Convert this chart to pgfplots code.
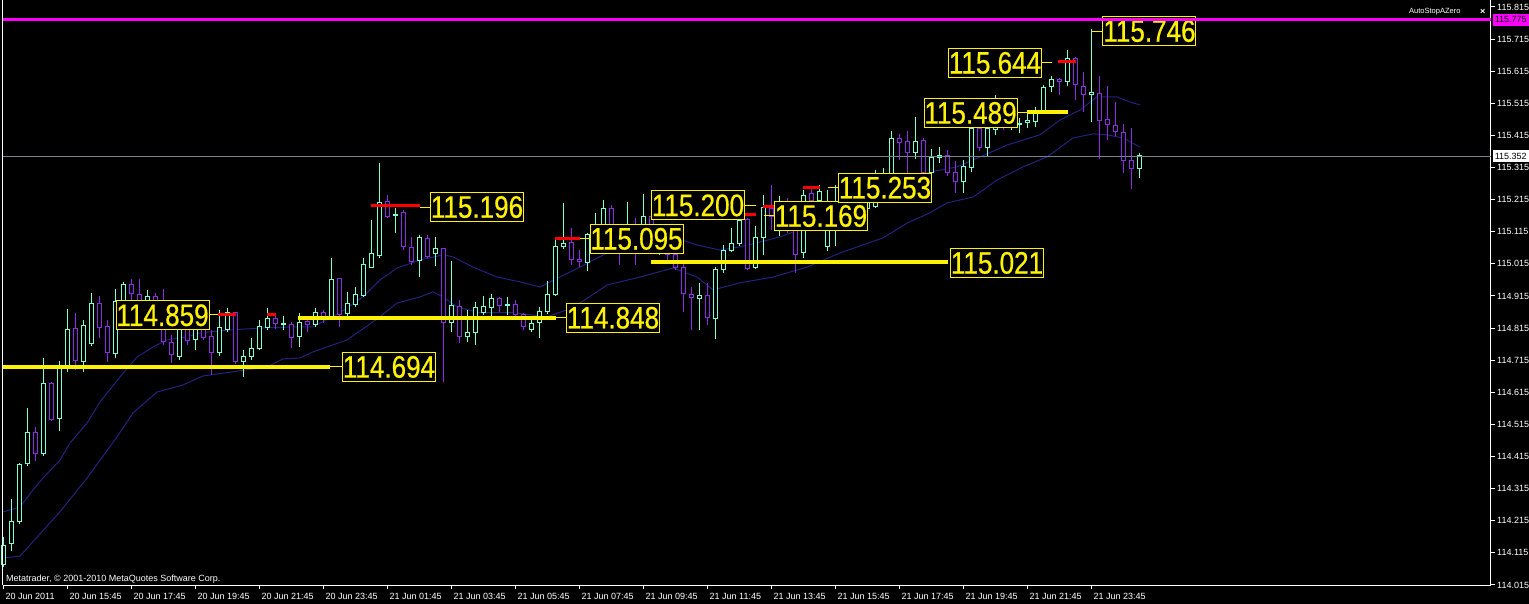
\documentclass[border=0pt]{standalone}
\usepackage{fontspec}
\setmainfont{Liberation Sans}
\newfontfamily\bigfont[FakeStretch=0.84, FakeBold=0.6]{Liberation Sans}
\usepackage{pgfplots}
\usepackage{pgfplotstable}
\pgfplotsset{compat=1.18}

\definecolor{bull}{RGB}{127,255,212}
\definecolor{bear}{RGB}{138,43,226}
\definecolor{maline}{RGB}{35,35,125}
\definecolor{pricegray}{RGB}{120,130,140}
\definecolor{mtmagenta}{RGB}{255,0,255}

\newcommand{\tickfont}{\fontsize{9bp}{10bp}\selectfont}
\newcommand{\lblfont}{\bigfont\fontsize{31bp}{31bp}\selectfont}

% M15 candles, index = bar number from 20 Jun 13:45
\pgfplotstableread{
i o h l c
0 114.078 114.165 114.071 114.137
1 114.143 114.283 114.121 114.212
2 114.212 114.395 114.206 114.389
3 114.392 114.566 114.386 114.491
5 114.423 114.722 114.417 114.641
7 114.535 114.713 114.494 114.691
8 114.691 114.875 114.679 114.810
10 114.710 114.841 114.679 114.822
11 114.766 114.924 114.760 114.891
14 114.735 114.937 114.722 114.897
15 114.841 114.959 114.825 114.952
18 114.872 114.934 114.841 114.912
22 114.725 114.872 114.716 114.841
24 114.781 114.856 114.747 114.825
27 114.738 114.872 114.728 114.816
28 114.810 114.878 114.803 114.863
30 114.710 114.747 114.663 114.725
31 114.725 114.785 114.716 114.753
32 114.750 114.841 114.747 114.819
33 114.816 114.878 114.810 114.844
35 114.827 114.853 114.810 114.829
37 114.788 114.863 114.756 114.831
39 114.825 114.878 114.819 114.863
41 114.850 115.033 114.847 114.965
43 114.859 114.928 114.850 114.891
44 114.887 114.943 114.881 114.921
45 114.918 115.033 114.912 115.012
46 115.005 115.152 115.002 115.046
47 115.040 115.329 115.033 115.205
49 115.166 115.189 115.111 115.168
52 115.027 115.105 114.974 115.096
54 115.046 115.099 115.009 115.062
56 114.831 115.024 114.803 114.884
58 114.788 114.872 114.772 114.800
59 114.800 114.897 114.763 114.878
60 114.863 114.915 114.856 114.881
61 114.878 114.921 114.853 114.906
63 114.885 114.912 114.856 114.887
66 114.810 114.841 114.803 114.828
67 114.831 114.881 114.785 114.866
68 114.866 114.962 114.859 114.921
69 114.921 115.096 114.915 115.068
70 115.068 115.205 115.062 115.080
73 115.018 115.111 114.993 115.108
74 115.090 115.174 115.058 115.136
75 115.105 115.214 115.090 115.186
78 115.090 115.208 115.074 115.136
80 115.090 115.233 115.074 115.161
82 115.090 115.136 115.043 115.105
87 114.906 114.956 114.810 114.918
89 114.844 115.005 114.781 114.996
90 114.999 115.074 114.987 115.058
91 115.058 115.127 115.052 115.077
92 115.077 115.227 115.071 115.149
94 115.005 115.133 114.999 115.096
95 115.096 115.230 115.043 115.192
97 115.121 115.227 115.102 115.198
100 115.049 115.245 115.033 115.227
102 115.211 115.261 115.121 115.239
103 115.068 115.245 115.055 115.183
104 115.167 115.261 115.071 115.198
106 115.177 115.230 115.152 115.198
107 115.183 115.245 115.167 115.214
108 115.186 115.230 115.177 115.205
109 115.195 115.308 115.189 115.230
110 115.227 115.314 115.214 115.276
111 115.298 115.429 115.289 115.404
114 115.361 115.473 115.342 115.395
116 115.301 115.373 115.295 115.345
117 115.345 115.379 115.329 115.351
120 115.270 115.339 115.236 115.317
121 115.314 115.463 115.301 115.438
123 115.376 115.463 115.348 115.438
124 115.432 115.541 115.417 115.479
126 115.445 115.488 115.432 115.457
127 115.448 115.470 115.423 115.451
128 115.454 115.485 115.438 115.463
129 115.457 115.504 115.442 115.485
130 115.494 115.572 115.488 115.563
131 115.566 115.600 115.550 115.588
133 115.582 115.681 115.569 115.656
136 115.544 115.746 115.457 115.550
142 115.311 115.361 115.283 115.352
}\bulltab

\pgfplotstableread{
i o h l c
4 114.491 114.507 114.401 114.423
6 114.641 114.648 114.526 114.529
9 114.813 114.863 114.685 114.713
12 114.891 114.915 114.785 114.816
13 114.819 114.841 114.710 114.738
16 114.952 114.968 114.903 114.924
17 114.921 114.968 114.856 114.872
19 114.912 114.924 114.841 114.856
20 114.856 114.937 114.763 114.772
21 114.769 114.794 114.707 114.732
23 114.841 114.866 114.763 114.775
25 114.825 114.847 114.778 114.785
26 114.788 114.810 114.669 114.738
29 114.863 114.866 114.704 114.710
34 114.844 114.853 114.813 114.828
36 114.825 114.834 114.753 114.785
38 114.834 114.850 114.803 114.825
40 114.863 114.872 114.831 114.847
42 114.968 114.971 114.819 114.856
48 115.208 115.230 115.158 115.164
50 115.174 115.183 115.058 115.068
51 115.065 115.099 115.012 115.021
53 115.093 115.105 115.033 115.037
55 115.062 115.065 114.647 114.831
57 114.881 114.903 114.769 114.788
62 114.906 114.912 114.866 114.884
64 114.887 114.903 114.847 114.856
65 114.856 114.863 114.810 114.819
71 115.083 115.127 115.012 115.030
72 115.030 115.058 115.005 115.021
76 115.186 115.198 115.090 115.105
77 115.105 115.136 115.012 115.074
79 115.136 115.158 115.012 115.074
81 115.161 115.183 115.058 115.090
83 115.090 115.121 115.021 115.043
84 115.043 115.074 114.996 115.005
85 115.005 115.021 114.866 114.924
86 114.921 114.943 114.810 114.909
88 114.918 114.956 114.825 114.847
93 115.152 115.158 114.996 115.002
96 115.186 115.261 115.121 115.161
98 115.198 115.220 115.111 115.136
99 115.118 115.152 114.987 115.043
101 115.233 115.252 115.198 115.211
105 115.198 115.214 115.146 115.177
112 115.404 115.420 115.339 115.392
113 115.395 115.429 115.298 115.361
115 115.398 115.407 115.295 115.301
118 115.351 115.370 115.289 115.301
119 115.301 115.336 115.236 115.270
122 115.438 115.457 115.367 115.376
125 115.479 115.501 115.432 115.448
132 115.588 115.594 115.541 115.582
134 115.656 115.659 115.526 115.575
135 115.566 115.613 115.488 115.544
137 115.547 115.600 115.342 115.460
138 115.466 115.569 115.401 115.448
139 115.445 115.519 115.413 115.426
140 115.423 115.451 115.298 115.336
141 115.336 115.438 115.248 115.311
}\beartab

% moving averages
\pgfplotstableread{
i v
0 114.243
2.06 114.258
3.69 114.311
4.94 114.348
7.06 114.404
8.31 114.457
10.44 114.519
12.06 114.585
14.56 114.663
16.69 114.725
18.69 114.756
20.44 114.778
22.94 114.788
24.56 114.800
28.69 114.810
32.94 114.816
37.06 114.819
38.69 114.819
42.06 114.863
44.94 114.912
47.06 114.965
49.19 115.002
52.06 115.027
54.94 115.043
56.19 115.037
58.69 115.005
61.69 114.974
64.56 114.959
67.06 114.943
69.56 114.974
72.06 115.005
75.44 115.049
79.56 115.096
83.69 115.099
86.69 115.074
89.56 115.058
92.06 115.068
94.56 115.083
97.06 115.099
100.44 115.130
104.56 115.177
108.31 115.230
112.06 115.276
115.81 115.301
119.19 115.317
122.06 115.348
125.44 115.385
129.56 115.417
132.06 115.463
134.56 115.494
136.69 115.535
139.19 115.535
140.81 115.519
142.06 115.510
}\mafast

\pgfplotstableread{
i v
0 114.099
2.06 114.105
7.06 114.243
10.44 114.348
14.19 114.476
16.19 114.551
19.19 114.616
22.44 114.638
24.94 114.666
28.69 114.679
32.94 114.694
34.94 114.719
37.06 114.722
38.69 114.741
42.94 114.778
47.06 114.850
49.19 114.893
52.06 114.912
53.69 114.928
54.94 114.912
56.69 114.881
59.56 114.863
63.69 114.863
67.94 114.850
70.44 114.872
72.06 114.893
75.44 114.949
79.56 114.974
83.69 115.002
86.69 114.974
88.69 114.934
92.06 114.956
96.19 114.974
100.44 115.005
104.56 115.049
109.94 115.096
112.94 115.142
115.81 115.174
117.94 115.205
121.19 115.223
124.19 115.276
127.44 115.317
130.44 115.348
133.69 115.407
136.19 115.420
137.94 115.417
139.94 115.407
142.06 115.379
}\maslow

\pgfplotstablegetrowsof{\bulltab}\pgfmathtruncatemacro{\nbull}{\pgfplotsretval-1}
\pgfplotstablegetrowsof{\beartab}\pgfmathtruncatemacro{\nbear}{\pgfplotsretval-1}

% one candle = wick (low to high) + hollow body (open to close), read from row #2 of table #1
\newcommand{\candle}[3]{%
  \pgfplotstablegetelem{#2}{i}\of#1\edef\ci{\pgfplotsretval}%
  \pgfplotstablegetelem{#2}{o}\of#1\edef\co{\pgfplotsretval}%
  \pgfplotstablegetelem{#2}{h}\of#1\edef\ch{\pgfplotsretval}%
  \pgfplotstablegetelem{#2}{l}\of#1\edef\cl{\pgfplotsretval}%
  \pgfplotstablegetelem{#2}{c}\of#1\edef\cc{\pgfplotsretval}%
  \pgfmathsetmacro{\xl}{\ci-0.25}\pgfmathsetmacro{\xr}{\ci+0.25}%
  \edef\doplot{%
    \noexpand\addplot[#3, line width=1bp, mark=none] coordinates {(\ci,\cl) (\ci,\ch)};
    \noexpand\addplot[draw=#3, fill=black, line width=1bp, mark=none]
      coordinates {(\xl,\co) (\xr,\co) (\xr,\cc) (\xl,\cc)} -- cycle;}%
  \doplot}

\pgfplotsset{
  frame/.style={
    at={(3bp,19bp)}, anchor=south west,
    width=1488bp, height=585bp, scale only axis,
    xmin=-0.0625, xmax=185.94,
    ymin=114.01494, ymax=115.8368,
    clip=false},
}

\begin{document}
\begin{tikzpicture}
\fill[black] (0,0) rectangle (1529bp,604bp);
\useasboundingbox (0,0) rectangle (1529bp,604bp);
% price chart: scales, moving averages and candles
\begin{axis}[frame,
  separate axis lines,
  axis x line*=bottom, axis y line*=right,
  axis line style={white, line width=1bp},
  tick style={white, line width=1bp},
  tick align=outside, major tick length=4bp,
  xtick={0,8,...,136},
  xticklabels={20 Jun 2011, 20 Jun 15:45, 20 Jun 17:45, 20 Jun 19:45, 20 Jun 21:45, 20 Jun 23:45,
    21 Jun 01:45, 21 Jun 03:45, 21 Jun 05:45, 21 Jun 07:45, 21 Jun 09:45, 21 Jun 11:45,
    21 Jun 13:45, 21 Jun 15:45, 21 Jun 17:45, 21 Jun 19:45, 21 Jun 21:45, 21 Jun 23:45},
  ytick={114.015,114.115,114.215,114.315,114.415,114.515,114.615,114.715,114.815,114.915,
    115.015,115.115,115.215,115.315,115.415,115.515,115.615,115.715,115.815},
  yticklabels={114.015,114.115,114.215,114.315,114.415,114.515,114.615,114.715,114.815,114.915,
    115.015,115.115,115.215,115.315,115.415,115.515,115.615,115.715,115.815},
  every tick label/.append style={text=white, font=\tickfont, inner sep=0pt},
  xticklabel style={anchor=north west, xshift=2bp, yshift=-4bp},
  yticklabel style={anchor=west, xshift=2bp},
]
\addplot[maline, line width=1bp, mark=none] table[x=i, y=v] {\mafast};
\addplot[maline, line width=1bp, mark=none] table[x=i, y=v] {\maslow};
\pgfplotsinvokeforeach{0,...,\nbull}{\candle{\bulltab}{#1}{bull}}
\pgfplotsinvokeforeach{0,...,\nbear}{\candle{\beartab}{#1}{bear}}
\draw[white, line width=1bp] (rel axis cs:0,0) -- (rel axis cs:0,1);
\end{axis}

% levels of the AutoStopAZero indicator, on top of the candles
\begin{axis}[frame, hide axis]
\addplot[pricegray, line width=1bp, mark=none] coordinates {(-0.0625,115.350) (185.94,115.350)};
% support levels (yellow)
\addplot[yellow, line width=4bp, mark=none] coordinates {(-0.0625,114.694) (40.81,114.694)};
\addplot[yellow, line width=4bp, mark=none] coordinates {(36.81,114.845) (53.06,114.845)};
\addplot[yellow, line width=4bp, mark=none] coordinates {(53.06,114.848) (69.06,114.848)};
\addplot[yellow, line width=4bp, mark=none] coordinates {(80.94,115.021) (118.06,115.021)};
\addplot[yellow, line width=4bp, mark=none] coordinates {(127.94,115.489) (133.06,115.489)};
% stop levels (red)
\addplot[red, line width=3bp, mark=none] coordinates {(26.81,114.856) (29.06,114.856)};
\addplot[red, line width=3bp, mark=none] coordinates {(32.94,114.856) (34.06,114.856)};
\addplot[red, line width=3bp, mark=none] coordinates {(45.94,115.196) (52.06,115.196)};
\addplot[red, line width=3bp, mark=none] coordinates {(68.94,115.095) (72.06,115.095)};
\addplot[red, line width=3bp, mark=none] coordinates {(90.81,115.169) (94.06,115.169)};
\addplot[red, line width=3bp, mark=none] coordinates {(94.94,115.195) (99.06,115.195)};
\addplot[red, line width=3bp, mark=none] coordinates {(99.94,115.253) (102.06,115.253)};
\addplot[red, line width=3bp, mark=none] coordinates {(131.81,115.644) (134.06,115.644)};
% connectors
\addplot[yellow, line width=1bp, mark=none] coordinates {(40.81,114.694) (42.31,114.694)};
\addplot[yellow, line width=1bp, mark=none] coordinates {(25.81,114.856) (26.81,114.856)};
\addplot[yellow, line width=1bp, mark=none] coordinates {(52.06,115.192) (53.31,115.192)};
\addplot[yellow, line width=1bp, mark=none] coordinates {(69.06,114.848) (70.31,114.848)};
\addplot[yellow, line width=1bp, mark=none] coordinates {(72.06,115.093) (73.31,115.093)};
\addplot[yellow, line width=1bp, mark=none] coordinates {(92.69,115.198) (94.06,115.198)};
\addplot[yellow, line width=1bp, mark=none] coordinates {(95.06,115.167) (96.31,115.167)};
\addplot[yellow, line width=1bp, mark=none] coordinates {(103.06,115.252) (104.31,115.252)};
\addplot[yellow, line width=1bp, mark=none] coordinates {(126.81,115.485) (127.94,115.485)};
\addplot[yellow, line width=1bp, mark=none] coordinates {(129.81,115.641) (131.06,115.641)};
\addplot[yellow, line width=1bp, mark=none] coordinates {(136.06,115.740) (137.31,115.740)};

\tikzset{lvl/.style={draw=yellow, line width=1bp, fill=black, text=yellow, font=\lblfont,
  minimum width=93bp, minimum height=29bp, inner sep=0pt}}
\node[lvl] at (axis cs:48.19,114.694) {114.694};
\node[lvl] at (axis cs:19.88,114.855) {114.859};
\node[lvl] at (axis cs:59.19,115.192) {115.196};
\node[lvl] at (axis cs:76.19,114.847) {114.848};
\node[lvl] at (axis cs:79.13,115.093) {115.095};
\node[lvl] at (axis cs:86.81,115.197) {115.200};
\node[lvl] at (axis cs:102.19,115.164) {115.169};
\node[lvl] at (axis cs:110.19,115.252) {115.253};
\node[lvl] at (axis cs:124.19,115.018) {115.021};
\node[lvl] at (axis cs:120.88,115.485) {115.489};
\node[lvl] at (axis cs:123.94,115.641) {115.644};
\node[lvl] at (axis cs:143.25,115.740) {115.746};

\addplot[mtmagenta, line width=3bp, mark=none] coordinates {(-0.0625,115.775) (185.94,115.775)};

% price flags on the scale
\node[anchor=west, fill=mtmagenta, text=black, font=\tickfont, inner sep=0.5bp, minimum width=36bp, minimum height=12bp]
  at ([xshift=1.5bp]axis cs:185.94,115.775) {115.775};
\node[anchor=west, fill=white, text=black, font=\tickfont, inner sep=0.5bp, minimum width=36bp, minimum height=12bp]
  at ([xshift=1.5bp]axis cs:185.94,115.350) {115.352};

\node[anchor=base west, inner sep=0pt, text=white, font=\tickfont]
  at ([xshift=3bp, yshift=3bp]rel axis cs:0,0) {Metatrader, © 2001-2010 MetaQuotes Software Corp.};
\node[anchor=west, inner sep=0pt, text=white, font=\fontsize{7.5bp}{8bp}\selectfont]
  at ([xshift=1406bp, yshift=-12bp]rel axis cs:0,1) {AutoStopAZero};
\node[anchor=west, inner sep=0pt, text=white, font=\fontsize{9bp}{9bp}\selectfont\bfseries]
  at ([xshift=1477bp, yshift=-12bp]rel axis cs:0,1) {×};
\end{axis}
\end{tikzpicture}
\end{document}
